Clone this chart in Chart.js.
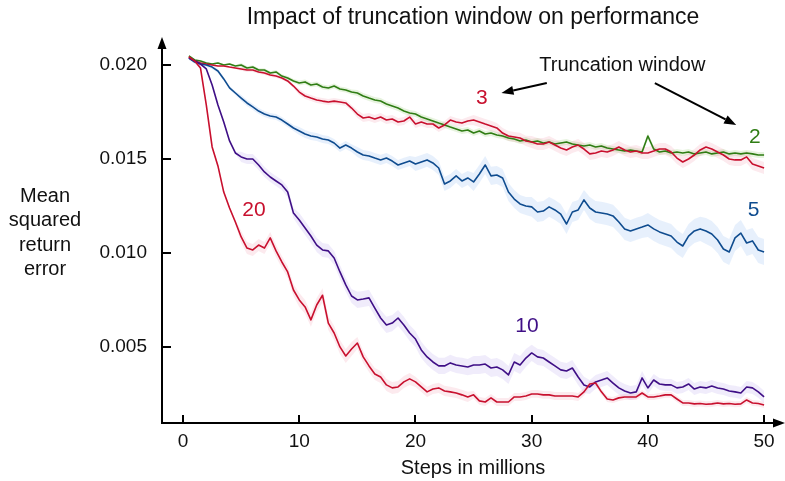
<!DOCTYPE html>
<html>
<head>
<meta charset="utf-8">
<script src="https://cdn.jsdelivr.net/npm/chart.js@4.4.0/dist/chart.umd.min.js"></script>
<style>
  html, body { margin: 0; padding: 0; background: #fff; }
</style>
</head>
<body>
<canvas id="myChart" width="785" height="481"></canvas>
<script>
// steps in millions
const steps = [
  0.5, 1, 1.5, 2, 2.5, 3, 3.5, 4, 4.5, 5,
  5.5, 6, 6.5, 7, 7.5, 8, 8.5, 9, 9.5, 10,
  10.5, 11, 11.5, 12, 12.5, 13, 13.5, 14, 14.5, 15,
  15.5, 16, 16.5, 17, 17.5, 18, 18.5, 19, 19.5, 20,
  20.5, 21, 21.5, 22, 22.5, 23, 23.5, 24, 24.5, 25,
  25.5, 26, 26.5, 27, 27.5, 28, 28.5, 29, 29.5, 30,
  30.5, 31, 31.5, 32, 32.5, 33, 33.5, 34, 34.5, 35,
  35.5, 36, 36.5, 37, 37.5, 38, 38.5, 39, 39.5, 40,
  40.5, 41, 41.5, 42, 42.5, 43, 43.5, 44, 44.5, 45,
  45.5, 46, 46.5, 47, 47.5, 48, 48.5, 49, 49.5, 50
];

// mean squared return error, one list per truncation window
const win2 = [
  0.02048, 0.02027, 0.02021, 0.02011, 0.02005, 0.02011, 0.02, 0.02005, 0.01995, 0.02,
  0.01984, 0.01989, 0.01973, 0.01973, 0.01957, 0.01963, 0.01941, 0.01931, 0.01915, 0.01904,
  0.0191, 0.01894, 0.01899, 0.01883, 0.01878, 0.01888, 0.01872, 0.01867, 0.01856, 0.01851,
  0.01835, 0.01824, 0.01814, 0.01808, 0.01793, 0.01782, 0.01771, 0.01755, 0.01745, 0.01739,
  0.01723, 0.01713, 0.01702, 0.01691, 0.01681, 0.0167, 0.0166, 0.01649, 0.01654, 0.01638,
  0.01649, 0.01633, 0.01638, 0.01628, 0.01622, 0.01612, 0.01606, 0.01596, 0.01601, 0.0159,
  0.01596, 0.01585, 0.0159, 0.0158, 0.01585, 0.0159, 0.0158, 0.01574, 0.01569, 0.01574,
  0.01564, 0.01569, 0.01558, 0.01553, 0.01548, 0.01542, 0.01548, 0.01542, 0.01537, 0.01622,
  0.01553, 0.01537, 0.01542, 0.01532, 0.01537, 0.01532, 0.01537, 0.01527, 0.01532, 0.01537,
  0.01527, 0.01532, 0.01537, 0.01527, 0.01532, 0.01527, 0.01532, 0.01527, 0.01521, 0.01521
];
const win3 = [
  0.02043, 0.02021, 0.02011, 0.02005, 0.02, 0.01995, 0.01995, 0.01989, 0.01984, 0.01979,
  0.01973, 0.01973, 0.01963, 0.01957, 0.01947, 0.01941, 0.01931, 0.01915, 0.01888, 0.01856,
  0.01835, 0.01824, 0.01814, 0.01808, 0.01803, 0.01808, 0.01803, 0.01798, 0.01771, 0.01739,
  0.01718, 0.01723, 0.01713, 0.01723, 0.01707, 0.01713, 0.01697, 0.01702, 0.01723, 0.01686,
  0.01697, 0.01686, 0.01686, 0.01665, 0.01681, 0.01707, 0.01697, 0.01691, 0.01702, 0.01707,
  0.01697, 0.01686, 0.01676, 0.01665, 0.01638, 0.01622, 0.01617, 0.01612, 0.01596, 0.0159,
  0.0158, 0.0158, 0.0159, 0.01574, 0.01558, 0.01548, 0.01564, 0.01574, 0.01553, 0.01527,
  0.01532, 0.01542, 0.01537, 0.01548, 0.01564, 0.01548, 0.01537, 0.01542, 0.01532, 0.01532,
  0.01542, 0.01553, 0.01553, 0.01537, 0.01505, 0.01484, 0.015, 0.01521, 0.01548, 0.01564,
  0.01553, 0.01537, 0.01521, 0.015, 0.01495, 0.01495, 0.01511, 0.01473, 0.01463, 0.01452
];
const win5 = [
  0.02037, 0.02016, 0.02005, 0.02, 0.01989, 0.01968, 0.01926, 0.01878, 0.01851, 0.01824,
  0.01798, 0.01777, 0.01755, 0.01739, 0.01729, 0.01723, 0.01707, 0.01686, 0.01665, 0.01649,
  0.01633, 0.01622, 0.01617, 0.01606, 0.01601, 0.01585, 0.01558, 0.01574, 0.01558, 0.01537,
  0.01521, 0.01516, 0.01505, 0.01495, 0.01505, 0.01489, 0.01468, 0.01479, 0.01489, 0.01473,
  0.01484, 0.01495, 0.01479, 0.01452, 0.01367, 0.01383, 0.0141, 0.01383, 0.01399, 0.01378,
  0.0142, 0.01468, 0.0141, 0.01415, 0.01399, 0.01324, 0.01287, 0.01261, 0.0125, 0.01245,
  0.01218, 0.01223, 0.01245, 0.01229, 0.01207, 0.01154, 0.01218, 0.01229, 0.01282, 0.01239,
  0.01218, 0.01213, 0.01207, 0.01197, 0.01165, 0.01128, 0.01117, 0.01128, 0.01138, 0.01149,
  0.01128, 0.01112, 0.01101, 0.0109, 0.01058, 0.01037, 0.0109, 0.01117, 0.01128, 0.01117,
  0.01101, 0.01069, 0.01021, 0.01005, 0.0108, 0.01106, 0.01053, 0.01064, 0.01016, 0.01005
];
const win10 = [
  0.02037, 0.02021, 0.02005, 0.01979, 0.01894, 0.01787, 0.01697, 0.01596, 0.01532, 0.01511,
  0.015, 0.015, 0.01468, 0.01431, 0.01404, 0.01383, 0.01362, 0.01324, 0.01212, 0.01175,
  0.01133, 0.0109, 0.01042, 0.01016, 0.01011, 0.00973, 0.00899, 0.0083, 0.00771, 0.0075,
  0.00755, 0.00761, 0.00707, 0.00654, 0.00617, 0.00627, 0.00654, 0.00617, 0.00574, 0.00542,
  0.00484, 0.00447, 0.0042, 0.00399, 0.00399, 0.00415, 0.00404, 0.00399, 0.00393, 0.00404,
  0.00404, 0.00409, 0.00388, 0.00393, 0.00378, 0.00351, 0.0042, 0.00404, 0.00441, 0.00468,
  0.00447, 0.00441, 0.0042, 0.00399, 0.00378, 0.00372, 0.00388, 0.0034, 0.00298, 0.00287,
  0.00314, 0.00324, 0.00335, 0.00308, 0.00282, 0.00266, 0.00255, 0.00261, 0.00335, 0.00282,
  0.00324, 0.00303, 0.00298, 0.00298, 0.00282, 0.00287, 0.00303, 0.00276, 0.00287, 0.00282,
  0.00292, 0.00282, 0.00276, 0.00266, 0.00261, 0.00255, 0.00287, 0.00282, 0.00261, 0.00234
];
const win20 = [
  0.02043, 0.02021, 0.01984, 0.01787, 0.01564, 0.01463, 0.01324, 0.01239, 0.01165, 0.01085,
  0.01026, 0.01016, 0.01042, 0.01026, 0.0108, 0.01011, 0.00952, 0.00899, 0.00803, 0.0075,
  0.00713, 0.00644, 0.00723, 0.00775, 0.00627, 0.00574, 0.005, 0.00452, 0.00489, 0.00521,
  0.00447, 0.00399, 0.00356, 0.0034, 0.00298, 0.00282, 0.00287, 0.00314, 0.0033, 0.00314,
  0.00287, 0.00261, 0.00276, 0.00282, 0.00266, 0.00261, 0.00255, 0.00245, 0.00234, 0.00245,
  0.00213, 0.00207, 0.00229, 0.00207, 0.00207, 0.00207, 0.00234, 0.00234, 0.00239, 0.0025,
  0.0025, 0.00245, 0.00245, 0.00239, 0.00239, 0.00239, 0.00239, 0.00234, 0.00261, 0.00303,
  0.00308, 0.00261, 0.00223, 0.00218, 0.00229, 0.00234, 0.00234, 0.00234, 0.00255, 0.00234,
  0.00234, 0.00239, 0.00245, 0.00245, 0.00223, 0.00202, 0.00202, 0.00197, 0.00199, 0.00195,
  0.00197, 0.00202, 0.00197, 0.00199, 0.00195, 0.00197, 0.00218, 0.00202, 0.00199, 0.00191
];

// half width of the shaded band, one value per 5M-step block
const spread2 = [0.00005, 0.0001, 0.00013, 0.00016, 0.00016, 0.00016, 0.00016, 0.00016, 0.00016, 0.00016];
const spread3 = [0.00005, 0.0001, 0.00016, 0.00021, 0.00021, 0.00027, 0.00032, 0.00032, 0.00032, 0.00032];
const spread5 = [0.0001, 0.00016, 0.00021, 0.00027, 0.00037, 0.00048, 0.00053, 0.00059, 0.00064, 0.00069];
const spread10 = [0.00005, 0.00027, 0.00037, 0.00043, 0.00043, 0.00048, 0.00043, 0.00037, 0.00032, 0.00032];
const spread20 = [0.0001, 0.00032, 0.00037, 0.00032, 0.00027, 0.00021, 0.00021, 0.00016, 0.00016, 0.00016];

const xTicks = [0, 10, 20, 30, 40, 50];
const yTicks = [0.005, 0.01, 0.015, 0.02];

const FONT = "'Liberation Sans', Arial, Helvetica, sans-serif";
Chart.defaults.font.family = FONT;
Chart.defaults.color = "#111";

const RED = "#c8102e";
const series = [
  { label: "20", values: win20, spread: spread20, color: RED, band: "rgba(235,90,120,0.13)", note: [6.1, 0.01229] },
  { label: "10", values: win10, spread: spread10, color: "#3f0f86", band: "rgba(150,120,225,0.14)", note: [29.6, 0.00611] },
  { label: "5", values: win5, spread: spread5, color: "#0f4c8f", band: "rgba(110,165,235,0.17)", note: [49.1, 0.01229] },
  { label: "3", values: win3, spread: spread3, color: RED, band: "rgba(235,90,120,0.13)", note: [25.7, 0.01824] },
  { label: "2", values: win2, spread: spread2, color: "#2f7d14", band: "rgba(120,190,80,0.18)", note: [49.2, 0.01617] },
];

const datasets = [];
series.forEach((s) => {
  const w = (x) => s.spread[Math.min(9, Math.floor(x / 5))];
  datasets.push({
    data: steps.map((x, i) => ({ x: x, y: s.values[i] + w(x) })),
    borderWidth: 0, pointRadius: 0, fill: false, order: 10,
  });
  datasets.push({
    data: steps.map((x, i) => ({ x: x, y: s.values[i] - w(x) })),
    borderWidth: 0, pointRadius: 0, fill: "-1", backgroundColor: s.band, order: 10,
  });
  datasets.push({
    label: s.label,
    data: steps.map((x, i) => ({ x: x, y: s.values[i] })),
    borderColor: s.color, borderWidth: 1.6, pointRadius: 0, fill: false,
    borderJoinStyle: "round", order: 1,
  });
});

function arrow(ctx, x1, y1, x2, y2) {
  const ang = Math.atan2(y2 - y1, x2 - x1);
  const L = 12, W = 4.5;
  const bx = x2 - L * Math.cos(ang), by = y2 - L * Math.sin(ang);
  ctx.beginPath(); ctx.moveTo(x1, y1); ctx.lineTo(bx, by); ctx.stroke();
  ctx.beginPath(); ctx.moveTo(x2, y2);
  ctx.lineTo(bx + W * Math.sin(ang), by - W * Math.cos(ang));
  ctx.lineTo(bx - W * Math.sin(ang), by + W * Math.cos(ang));
  ctx.closePath(); ctx.fill();
}

// axes with arrows, y title and the in-plot notes
const decor = {
  id: "decor",
  afterDraw(chart) {
    const { ctx, chartArea: a, scales: { x, y } } = chart;
    ctx.save();
    ctx.strokeStyle = "#000";
    ctx.fillStyle = "#000";
    ctx.lineWidth = 2;
    const x0 = a.left + 1;
    const yb = a.bottom - 1;
    ctx.beginPath(); ctx.moveTo(x0, yb); ctx.lineTo(x0, a.top + 6); ctx.stroke();
    ctx.beginPath(); ctx.moveTo(x0, a.top - 3); ctx.lineTo(x0 - 4.5, a.top + 9); ctx.lineTo(x0 + 4.5, a.top + 9); ctx.closePath(); ctx.fill();
    ctx.beginPath(); ctx.moveTo(x0 - 1, yb); ctx.lineTo(a.right - 6, yb); ctx.stroke();
    ctx.beginPath(); ctx.moveTo(a.right, yb); ctx.lineTo(a.right - 12, yb - 4.5); ctx.lineTo(a.right - 12, yb + 4.5); ctx.closePath(); ctx.fill();
    yTicks.forEach((v) => {
      const py = Math.round(y.getPixelForValue(v));
      ctx.beginPath(); ctx.moveTo(x0, py); ctx.lineTo(x0 + 9, py); ctx.stroke();
    });
    xTicks.forEach((v) => {
      const px = Math.round(x.getPixelForValue(v));
      ctx.beginPath(); ctx.moveTo(px, yb); ctx.lineTo(px, yb - 8); ctx.stroke();
    });

    // y axis title
    ctx.font = "20px " + FONT;
    ctx.fillStyle = "#111";
    ctx.textAlign = "center";
    ctx.textBaseline = "middle";
    const ym = (a.top + a.bottom) / 2;
    ["Mean", "squared", "return", "error"].forEach((t, i) => {
      ctx.fillText(t, a.left - 116, ym - 36 + i * 24.5);
    });

    // notes
    ctx.fillText("Truncation window", x.getPixelForValue(37.8), y.getPixelForValue(0.02));
    ctx.lineWidth = 2;
    ctx.fillStyle = "#000";
    arrow(ctx, x.getPixelForValue(31.3), y.getPixelForValue(0.01904), x.getPixelForValue(27.4), y.getPixelForValue(0.01851));
    arrow(ctx, x.getPixelForValue(40.6), y.getPixelForValue(0.01904), x.getPixelForValue(47.6), y.getPixelForValue(0.01681));
    ctx.font = "21px " + FONT;
    series.forEach((s) => {
      ctx.fillStyle = s.color;
      ctx.fillText(s.label, x.getPixelForValue(s.note[0]), y.getPixelForValue(s.note[1]));
    });
    ctx.restore();
  },
};

const ctx = document.getElementById("myChart");
const myChart = new Chart(ctx, {
  type: "line",
  data: { datasets: datasets },
  options: {
    responsive: false,
    animation: false,
    devicePixelRatio: 1,
    layout: { padding: 0 },
    plugins: {
      legend: { display: false },
      tooltip: { enabled: false },
      title: {
        display: true,
        text: "Impact of truncation window on performance",
        fullSize: false,
        color: "#111",
        font: { size: 23, weight: "normal" },
        padding: { top: 4, bottom: 8.4 },
      },
    },
    scales: {
      x: {
        type: "linear",
        min: -1.9,
        max: 51.8,
        grid: { display: false, drawTicks: false },
        border: { display: false },
        afterFit: (s) => { s.height = 57; },
        afterBuildTicks: (s) => { s.ticks = xTicks.map((v) => ({ value: v })); },
        ticks: { padding: 6, font: { size: 19 }, maxRotation: 0, autoSkip: false },
        title: { display: true, text: "Steps in millions", font: { size: 20 }, padding: { top: 0, bottom: 1 } },
      },
      y: {
        type: "linear",
        min: 0.0009,
        max: 0.02133,
        grid: { display: false, drawTicks: false },
        border: { display: false },
        afterFit: (s) => { s.width = 161; },
        afterBuildTicks: (s) => { s.ticks = yTicks.map((v) => ({ value: v })); },
        ticks: { padding: 14, font: { size: 19 }, callback: (v) => v.toFixed(3) },
      },
    },
  },
  plugins: [decor],
});
</script>
</body>
</html>
